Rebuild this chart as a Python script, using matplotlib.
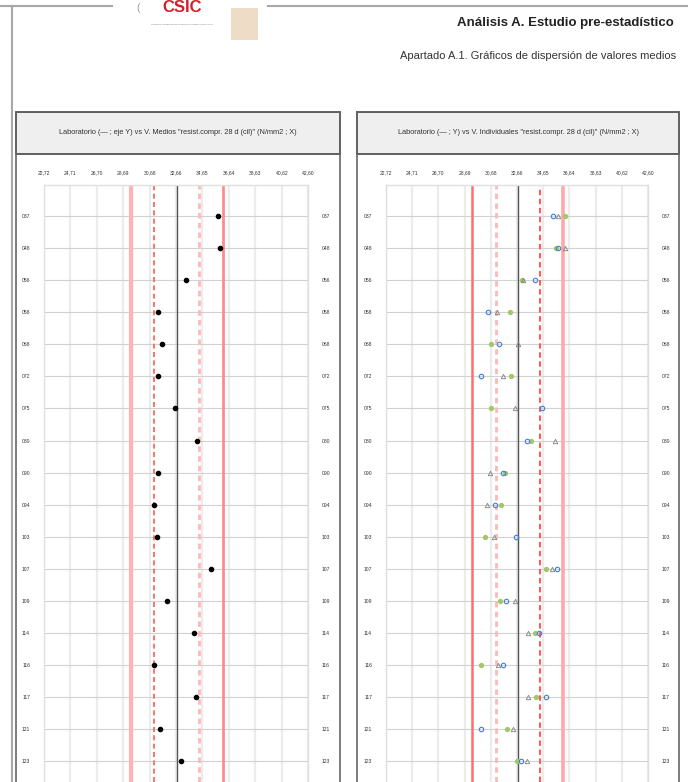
import matplotlib.pyplot as plt
from matplotlib.patches import Rectangle
from matplotlib.lines import Line2D

# laboratories (rows, top to bottom)
labs = ['037', '048', '056', '058', '068', '072', '075', '080', '090',
        '094', '103', '107', '109', '114', '116', '117', '121', '123']

# mean values per lab
means = [35.85, 35.97, 33.41, 31.30, 31.63, 31.30, 32.61, 34.26, 31.30,
         30.98, 31.21, 35.30, 31.96, 33.99, 30.98, 34.17, 31.48, 33.01]

# individual values per lab (three specimens)
ind_blue = [35.39, 35.79, 34.00, 30.46, 31.29, 29.95, 34.58, 33.44, 31.58,
            30.99, 32.61, 35.67, 31.83, 34.33, 31.58, 34.86, 29.95, 32.94]
ind_gray = [35.79, 36.30, 33.12, 31.17, 32.71, 31.58, 32.51, 35.52, 30.59,
            30.41, 30.92, 35.34, 32.53, 33.49, 31.22, 33.52, 32.36, 33.40]
ind_green = [36.30, 35.62, 33.02, 32.13, 30.69, 32.21, 30.69, 33.70, 31.77,
             31.47, 30.21, 34.84, 31.35, 34.03, 29.95, 34.10, 31.90, 32.64]

# x axis ticks
xticks = [22.72, 24.71, 26.70, 28.69, 30.68, 32.66, 34.65, 36.64, 38.63, 40.62, 42.60]
xtick_labels = ['22,72', '24,71', '26,70', '28,69', '30,68', '32,66',
                '34,65', '36,64', '38,63', '40,62', '42,60']

# reference lines: grand mean, inner (dashed) and outer (solid) limits
center = 32.72
inner = [31.03, 34.41]
outer = [29.28, 36.17]

W, H = 688, 782
plt.rcParams['font.family'] = ['Liberation Sans', 'DejaVu Sans']
fig = plt.figure(figsize=(W / 100, H / 100), dpi=100)


def fx(px):
    return px / W


def fy(py):
    return 1 - py / H


# page frame
fig.add_artist(Line2D([fx(12), fx(12)], [0, fy(6)], color='#a8a8a8', lw=1.5))
fig.add_artist(Line2D([0, fx(112)], [fy(6), fy(6)], color='#a8a8a8', lw=1.5))
fig.add_artist(Line2D([fx(268), 1], [fy(6), fy(6)], color='#a8a8a8', lw=1.5))

# logo
fig.text(fx(182), fy(8), 'CSIC', color='#d0202a', fontsize=12, fontweight='bold',
         ha='center', va='center')
fig.text(fx(138), fy(8), '(', color='#999999', fontsize=7, ha='center', va='center')
fig.text(fx(182), fy(24), 'CONSEJO SUPERIOR DE INVESTIGACIONES CIENTÍFICAS',
         color='#777777', fontsize=1.6, ha='center', va='center')
fig.add_artist(Rectangle((fx(231), fy(40)), fx(27), 32 / H, transform=fig.transFigure,
                         facecolor='#efdcc6', edgecolor='none'))

# titles
fig.text(fx(674), fy(23), 'Análisis A. Estudio pre-estadístico', fontsize=9.5,
         fontweight='bold', ha='right', va='center', color='#222222')
fig.text(fx(676), fy(56), 'Apartado A.1. Gráficos de dispersión de valores medios',
         fontsize=8, ha='right', va='center', color='#333333')

panels = [
    dict(box=(16, 340), ax=(44, 308),
         title='Laboratorio (— ; eje Y) vs V. Medios "resist.compr. 28 d (cil)" (N/mm2 ; X)'),
    dict(box=(357, 679), ax=(386, 648),
         title='Laboratorio (— ; Y) vs V. Individuales "resist.compr. 28 d (cil)" (N/mm2 ; X)'),
]

axes = []
for p in panels:
    x0, x1 = p['box']
    fig.add_artist(Line2D([fx(x0), fx(x0)], [0, fy(112)], color='#666666', lw=1.2))
    fig.add_artist(Line2D([fx(x1), fx(x1)], [0, fy(112)], color='#666666', lw=1.2))
    fig.add_artist(Rectangle((fx(x0), fy(154)), fx(x1 - x0), 42 / H,
                             transform=fig.transFigure, facecolor='#efefef',
                             edgecolor='#444444', lw=1.2))
    fig.text(fx((x0 + x1) / 2), fy(133), p['title'], fontsize=5.3,
             ha='center', va='center', color='#333333')
    a0, a1 = p['ax']
    ax = fig.add_axes([fx(a0), 0, fx(a1 - a0), fy(185)])
    rows = list(range(len(labs)))
    ax.set_xlim(xticks[0], xticks[-1])
    ax.set_ylim(17.65, -0.97)
    ax.set_xticks(xticks)
    ax.set_xticklabels(xtick_labels, fontsize=3.6, color='#333333')
    ax.xaxis.tick_top()
    ax.set_yticks(rows)
    ax.set_yticklabels(labs, fontsize=3.6, color='#333333')
    ax.tick_params(axis='x', length=0, pad=7)
    ax.tick_params(axis='y', length=0, pad=10, labelleft=True, labelright=True)
    for s in ax.spines.values():
        s.set_color('#e0e0e0')
        s.set_linewidth(1)
    ax.spines['bottom'].set_visible(False)
    for t in xticks:
        ax.axvline(t, color='#ececec', lw=1.6, zorder=0)
    for r in rows:
        ax.axhline(r, color='#d2d2d2', lw=0.8, zorder=1)
    ax.axvline(center, color='#555555', lw=1.0, zorder=2)
    axes.append(ax)

# left panel reference lines
axl, axr = axes
axl.axvline(outer[0], color='#ffb3b3', lw=3.0, zorder=2)
axl.axvline(outer[1], color='#ff8c8c', lw=2.0, zorder=2)
axl.axvline(inner[0], color='#ff5a5a', lw=1.2, ls=(0, (3, 2)), zorder=2)
axl.axvline(inner[1], color='#ffb8b8', lw=2.0, ls=(0, (2, 1.5)), zorder=2)
axl.plot(means, range(len(labs)), 'o', color='black', ms=3.0, zorder=4)

# right panel reference lines
axr.axvline(outer[0], color='#ff6e6e', lw=1.8, zorder=2)
axr.axvline(outer[1], color='#ffa8a8', lw=2.6, zorder=2)
axr.axvline(inner[0], color='#ffb8b8', lw=2.0, ls=(0, (2, 1.5)), zorder=2)
axr.axvline(inner[1], color='#ff4a4a', lw=1.3, ls=(0, (3, 2)), zorder=2)
ys = range(len(labs))
axr.plot(ind_green, ys, 'o', color='#a3c76b', ms=2.8, zorder=4)
axr.plot(ind_gray, ys, '^', mfc='none', mec='#808080', mew=0.6, ms=3.2, zorder=5)
axr.plot(ind_blue, ys, 'o', mfc='none', mec='#3f7fd8', mew=0.8, ms=3.2, zorder=6)

fig.savefig('out.png', dpi=100)
